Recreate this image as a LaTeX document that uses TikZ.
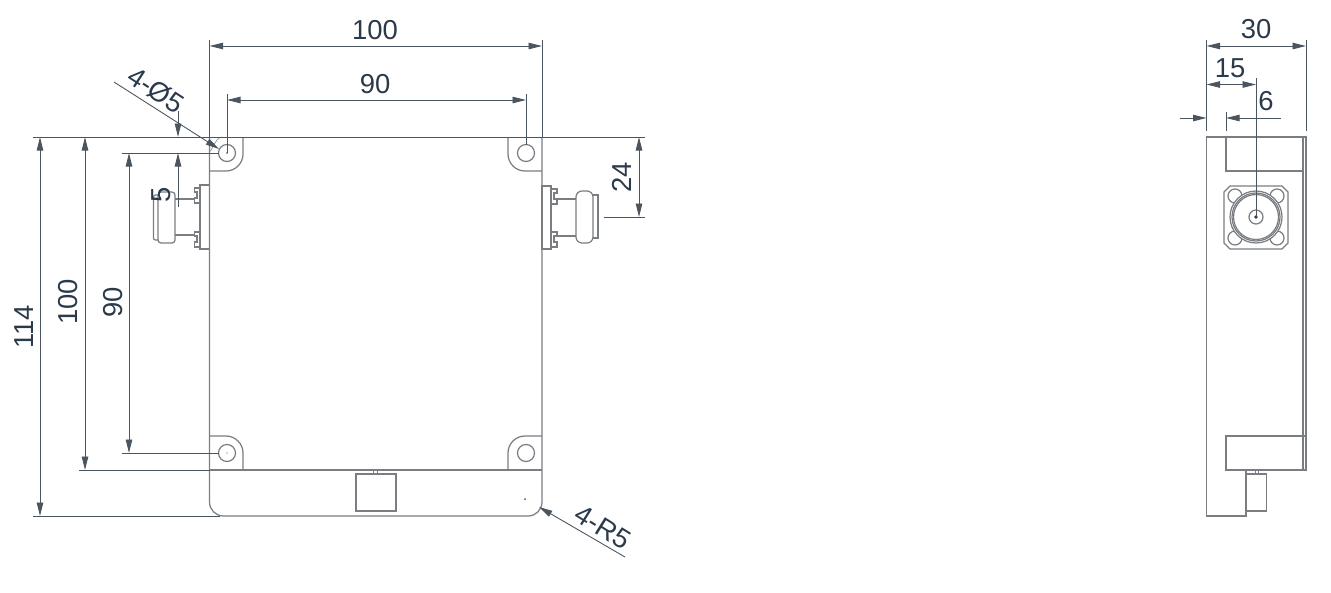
\documentclass[tikz,border=0pt]{standalone}
\usepackage{fontspec}
\setmainfont{Liberation Sans}
\usetikzlibrary{arrows.meta}
\definecolor{dwgray}{HTML}{7A7E82}
\definecolor{dwdim}{HTML}{4A5560}
\definecolor{dwtext}{HTML}{2B3A4A}

\begin{document}
\begin{tikzpicture}[
  x=0.02cm, y=-0.02cm,
  every node/.style={font=\fontsize{15.6}{17}\selectfont, text=dwtext, inner sep=0pt},
  part/.style={draw=dwgray, line width=0.7pt},
  dimline/.style={draw=dwdim, line width=0.5pt},
  dimboth/.style={dimline, {Stealth[length=0.27cm,width=0.13cm,inset=0pt]}-{Stealth[length=0.27cm,width=0.13cm,inset=0pt]}},
  dimhead/.style={dimline, -{Stealth[length=0.27cm,width=0.13cm,inset=0pt]}},
]
\useasboundingbox (0,0) rectangle (1331,592);

% Front view body
\draw[part, rounded corners=0.28cm] (209.5,137) -- (209.5,516) -- (542,516) -- (542,137);
\draw[part] (209.5,470) -- (542,470);

% Corner tabs and holes
\draw[part, rounded corners=0.34cm] (243,137) -- (243,171) -- (209.5,171);
\draw[part, rounded corners=0.34cm] (508,137) -- (508,171) -- (542,171);
\draw[part, rounded corners=0.34cm] (209.5,436) -- (243,436) -- (243,470);
\draw[part, rounded corners=0.34cm] (542,436) -- (508,436) -- (508,470);
\draw[part, line width=0.3pt] (209.5,150) to[out=-90,in=180] (222,137);
\foreach \hx in {227,526} {
  \foreach \hy in {153,453} {
    \draw[part] (\hx,\hy) circle[radius=8.5];
  }
}
\fill[dwdim] (227,153) circle[radius=0.8];
\fill[dwdim] (227,453) circle[radius=0.6];
\fill[dwdim] (525,499) circle[radius=1];

% Left connector
\draw[part] (209.5,185) rectangle (200,249);
\foreach \ny in {188,232} {
  \draw[part] (200,\ny) -- (194.5,\ny) -- (194.5,\ny+4) -- (197,\ny+4) -- (197,\ny+10) -- (194.5,\ny+10) -- (194.5,\ny+15) -- (200,\ny+15);
}
\draw[part] (194.5,199) -- (175,199);
\draw[part] (194.5,235) -- (175,235);
\draw[part, rounded corners=0.06cm] (158,192) rectangle (175,243);
\draw[part, rounded corners=0.04cm] (158,195) -- (153.5,195) -- (153.5,240) -- (158,240);

% Right connector
\draw[part] (542,186) rectangle (551,249);
\foreach \ny in {189,232} {
  \draw[part] (551,\ny) -- (557,\ny) -- (557,\ny+4) -- (554,\ny+4) -- (554,\ny+10) -- (557,\ny+10) -- (557,\ny+15) -- (551,\ny+15);
}
\draw[part] (557,199) -- (576,199);
\draw[part] (557,236) -- (576,236);
\draw[part, rounded corners=0.12cm] (576,191) rectangle (593,243);
\draw[part] (593,195) -- (598,195) -- (598,238) -- (593,238);

% Bottom connector
\draw[part] (356,474) rectangle (396,511);
\draw[part, line width=0.4pt] (373.5,470) -- (373.5,474);
\draw[part, line width=0.4pt] (377.5,470) -- (377.5,474);

% Front view dimensions
\draw[dimline] (33,137) -- (645,137);
\draw[dimline] (209.5,40) -- (209.5,137);
\draw[dimline] (542,40) -- (542,137);
\draw[dimboth] (209.5,46) -- (542,46);
\node (lbltop) at (375,30) {100};
\draw[dimline] (227,94) -- (227,153);
\draw[dimline] (526,94) -- (526,145);
\draw[dimboth] (227,100) -- (526,100);
\node (lblholes) at (375,84) {90};

\draw[dimline] (33,516) -- (220,516);
\draw[dimboth] (40,137) -- (40,516);
\node[rotate=90] (lblheight) at (24,327) {114};
\draw[dimline] (79,470) -- (209.5,470);
\draw[dimboth] (85,137) -- (85,470);
\node[rotate=90] (lblbody) at (68,302) {100};
\draw[dimline] (122,153) -- (218.5,153);
\draw[dimline] (122,453) -- (218.5,453);
\draw[dimboth] (129,153) -- (129,453);
\node[rotate=90] (lblpitch) at (113,302) {90};

\draw[dimhead] (178,111) -- (178,137);
\draw[dimhead] (178,207) -- (178,153);
\node[rotate=90] (lbloffset) at (161,195) {5};

\draw[dimline] (604,217) -- (645,217);
\draw[dimboth] (639,137) -- (639,217);
\node[rotate=90] (lblconn) at (622,177) {24};

% Leaders
\draw[dimhead] (114,82) -- (219,149);
\node[rotate=-33] (lblhole) at (156,90) {4-Ø5};
\draw[dimhead] (625,557) -- (539,507);
\node[rotate=-32] (lblradius) at (603,527) {4-R5};

% Side view body
\draw[part] (1246,470) -- (1246,516) -- (1206.5,516) -- (1206.5,137) -- (1306,137) -- (1306,470) -- (1226,470) -- (1226,436) -- (1306,436);
\draw[part] (1303,137) -- (1303,470);
\draw[part] (1226,137) -- (1226,171) -- (1303,171);
\draw[part] (1246,474) rectangle (1266.5,511);
\draw[part, line width=0.4pt] (1255,470) -- (1255,474);
\draw[part, line width=0.4pt] (1258,470) -- (1258,474);

% Side view connector
\draw[part] (1230,186) -- (1282,186) -- (1288,192) -- (1288,243) -- (1282,249) -- (1230,249) -- (1224,243) -- (1224,192) -- cycle;
\foreach \cx in {1235,1277} {
  \foreach \cy in {196,238} {
    \draw[part] (\cx,\cy) circle[radius=7];
  }
}
\draw[part, fill=white] (1256,217) circle[radius=26];
\draw[part] (1256,217) circle[radius=24];
\draw[part] (1256,217) circle[radius=22.5];
\draw[part] (1256,217) circle[radius=7];
\fill[dwtext] (1256,217) circle[radius=1.8];

% Side view dimensions
\draw[dimline] (1206.5,40) -- (1206.5,131);
\draw[dimline] (1306,40) -- (1306,131);
\draw[dimboth] (1206.5,46) -- (1306,46);
\node (lbldepth) at (1256,29) {30};
\draw[dimline] (1256,78) -- (1256,217);
\draw[dimboth] (1206.5,84.5) -- (1256,84.5);
\node (lblcentre) at (1230,68) {15};
\draw[dimhead] (1180,118) -- (1206.5,118);
\draw[dimline] (1226,112) -- (1226,131);
\draw[dimhead] (1281,118) -- (1226,118);
\node (lblstep) at (1266,101) {6};
\end{tikzpicture}
\end{document}
